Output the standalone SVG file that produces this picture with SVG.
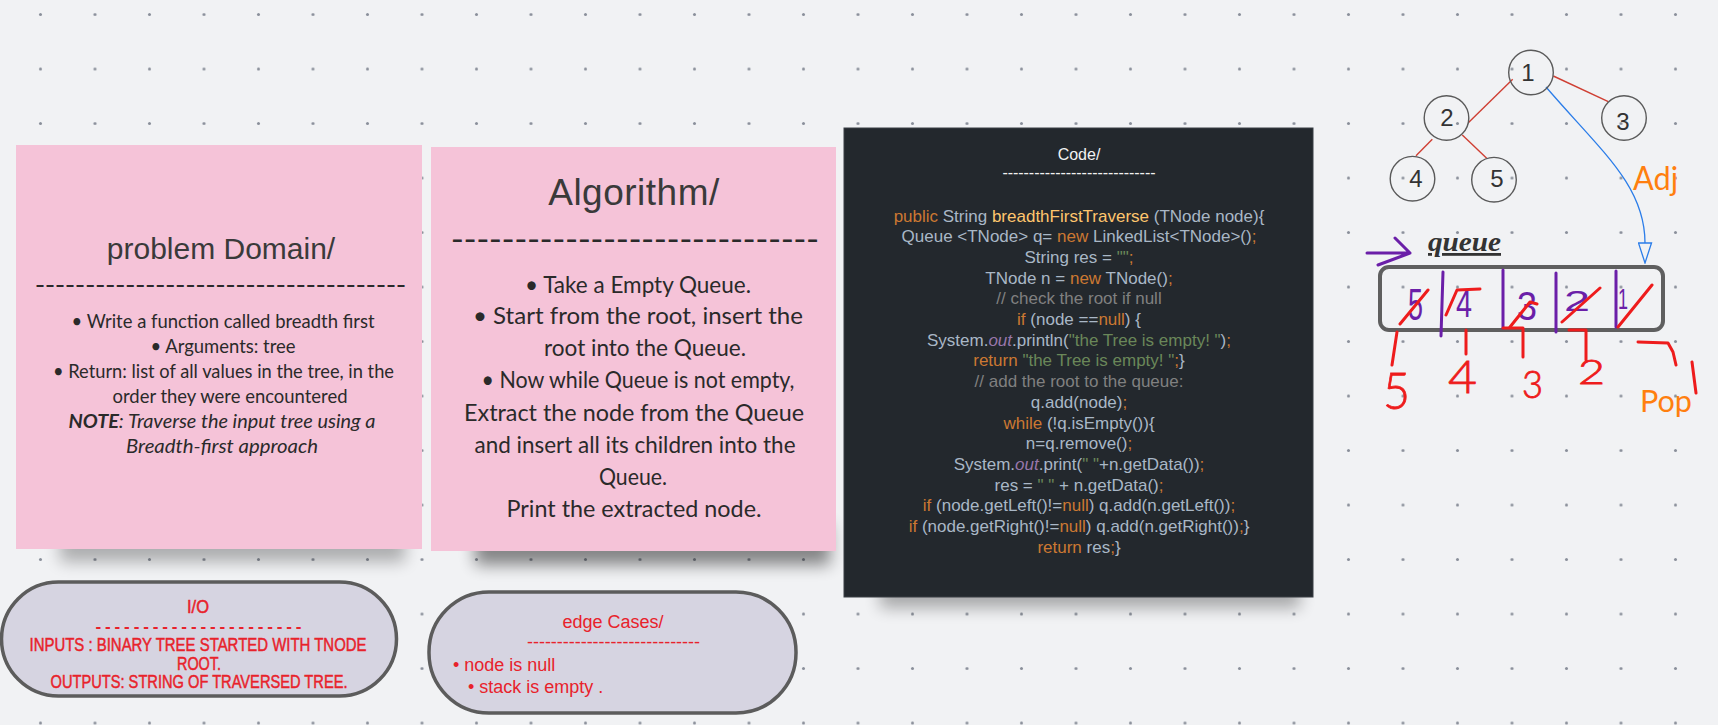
<svg xmlns="http://www.w3.org/2000/svg" width="1718" height="725" viewBox="0 0 1718 725">
<style>
.bg{fill:#f1f2f4}
.pink{fill:#f5c3d8}
.title{font-family:"Liberation Sans",Arial,sans-serif;fill:#3a3a3a;text-anchor:middle}
.hand{font-family:Lato,"Noto Sans",sans-serif;fill:#2a2a2a;text-anchor:middle}
.code{font-family:"Liberation Sans",Arial,sans-serif;font-size:17px;fill:#a9b7c6;text-anchor:middle;white-space:pre}
.k{fill:#cc7832}.y{fill:#ffc66d}.s{fill:#6a8759}.c{fill:#808080}.o{fill:#9876aa;font-style:italic}
.pill{fill:#d6d4e1;stroke:#5c5c5c;stroke-width:3.5}
.red{font-family:"Liberation Sans",Arial,sans-serif;fill:#e8222b}
.caps{stroke:#e8222b;stroke-width:0.5}
.node{fill:none;stroke:#5a5a5a;stroke-width:1.4}
.nl{font-family:"Liberation Sans",Arial,sans-serif;font-size:24px;fill:#333;text-anchor:middle}
.edge{stroke:#cf3f33;stroke-width:1.4;fill:none}
.pen{fill:none;stroke-linecap:round;stroke-linejoin:round}
.rp{stroke:#ee1c1c;stroke-width:3}
.pp{stroke:#6b1fa8;stroke-width:3}
.purd{font-family:"Liberation Sans",Arial,sans-serif;fill:#6b1fa8}
.redd{font-family:Lato,"Liberation Sans",sans-serif;font-weight:300;fill:#ee1c1c;stroke:#ee1c1c;stroke-width:0.8}
.ora{font-family:Lato,"Liberation Sans",sans-serif;fill:#ff7f0f}
</style>
<defs>
<pattern id="dots" patternUnits="userSpaceOnUse" x="13.25" y="-12.75" width="54.5" height="54.5">
<circle cx="27.25" cy="27.25" r="1.5" fill="#8a8f9a"/>
</pattern>
<filter id="blur" x="-30%" y="-100%" width="160%" height="300%"><feGaussianBlur stdDeviation="8"/></filter>
<marker id="tri" markerUnits="userSpaceOnUse" viewBox="-1 -1 22 15" refX="0" refY="6.5" markerWidth="22" markerHeight="15" orient="auto">
<path d="M0,0 L20,6.5 L0,13 Z" fill="#f1f2f4" stroke="#2b7de9" stroke-width="1.3"/>
</marker>
</defs>
<rect class="bg" x="0" y="0" width="1718" height="725"/>
<rect x="0" y="0" width="1718" height="725" fill="url(#dots)"/>

<g id="shadows">
<rect x="60" y="522" width="345" height="40" fill="#000" opacity="0.28" filter="url(#blur)"/>
<rect x="475" y="525" width="355" height="40" fill="#000" opacity="0.45" filter="url(#blur)"/>
<rect x="880" y="570" width="420" height="38" fill="#000" opacity="0.3" filter="url(#blur)"/>
</g>

<g id="problem-domain">
<rect class="pink" x="16" y="145" width="406" height="404"/>
<text class="title" x="221" y="259" font-size="30">problem Domain/</text>
<text class="hand" x="220.5" y="292" font-size="19" font-weight="bold" textLength="371" lengthAdjust="spacingAndGlyphs">-------------------------------------</text>
<text class="hand" x="223" y="328" font-size="19" textLength="303" lengthAdjust="spacingAndGlyphs">• Write a function called breadth first</text>
<text class="hand" x="223" y="353" font-size="19" textLength="145" lengthAdjust="spacingAndGlyphs">• Arguments: tree</text>
<text class="hand" x="223.5" y="378" font-size="19" textLength="341" lengthAdjust="spacingAndGlyphs">• Return: list of all values in the tree, in the</text>
<text class="hand" x="230" y="403" font-size="19" textLength="235" lengthAdjust="spacingAndGlyphs">order they were encountered</text>
<text class="hand" x="222" y="428" font-size="19" font-style="italic" textLength="307" lengthAdjust="spacingAndGlyphs"><tspan font-weight="bold">NOTE</tspan>: Traverse the input tree using a</text>
<text class="hand" x="222" y="453" font-size="19" font-style="italic" textLength="192" lengthAdjust="spacingAndGlyphs">Breadth-first approach</text>
</g>

<g id="algorithm">
<rect class="pink" x="431" y="147" width="405" height="404"/>
<text class="title" x="634" y="205" font-size="37" letter-spacing="0.5">Algorithm/</text>
<text class="hand" x="635" y="248" font-size="24" font-weight="bold" textLength="368" lengthAdjust="spacingAndGlyphs">-----------------------------</text>
<text class="hand" x="638" y="293" font-size="24" textLength="226" lengthAdjust="spacingAndGlyphs">• Take a Empty Queue.</text>
<text class="hand" x="638" y="324" font-size="24" textLength="330" lengthAdjust="spacingAndGlyphs">• Start from the root, insert the</text>
<text class="hand" x="645" y="356" font-size="24" textLength="202" lengthAdjust="spacingAndGlyphs">root into the Queue.</text>
<text class="hand" x="638" y="388" font-size="24" textLength="313" lengthAdjust="spacingAndGlyphs">• Now while Queue is not empty,</text>
<text class="hand" x="634" y="421" font-size="24" textLength="340" lengthAdjust="spacingAndGlyphs">Extract the node from the Queue</text>
<text class="hand" x="635" y="453" font-size="24" textLength="321" lengthAdjust="spacingAndGlyphs">and insert all its children into the</text>
<text class="hand" x="633" y="485" font-size="24" textLength="68" lengthAdjust="spacingAndGlyphs">Queue.</text>
<text class="hand" x="634" y="517" font-size="24" textLength="255" lengthAdjust="spacingAndGlyphs">Print the extracted node.</text>
</g>

<g id="code">
<rect x="844" y="128" width="469" height="469" fill="#23282d" stroke="#3a3f45" stroke-width="1"/>
<text x="1079" y="160" font-family="Liberation Sans,Arial,sans-serif" font-size="16" fill="#f2f2f2" text-anchor="middle">Code/</text>
<text x="1079" y="178" font-family="Liberation Sans,Arial,sans-serif" font-size="16" fill="#f2f2f2" text-anchor="middle" textLength="153" lengthAdjust="spacing">-----------------------------</text>
<text class="code" x="1079" y="221.5" xml:space="preserve"><tspan class="k">public</tspan> String <tspan class="y">breadthFirstTraverse</tspan> (TNode node){</text>
<text class="code" x="1079" y="242.2" xml:space="preserve">Queue &lt;TNode&gt; q= <tspan class="k">new</tspan> LinkedList&lt;TNode&gt;()<tspan class="k">;</tspan></text>
<text class="code" x="1079" y="262.9" xml:space="preserve">String res = <tspan class="s">""</tspan><tspan class="k">;</tspan></text>
<text class="code" x="1079" y="283.6" xml:space="preserve">TNode n = <tspan class="k">new</tspan> TNode()<tspan class="k">;</tspan></text>
<text class="code c" x="1079" y="304.3" xml:space="preserve">// check the root if null</text>
<text class="code" x="1079" y="325" xml:space="preserve"><tspan class="k">if</tspan> (node ==<tspan class="k">null</tspan>) {</text>
<text class="code" x="1079" y="345.7" xml:space="preserve">System.<tspan class="o">out</tspan>.println(<tspan class="s">"the Tree is empty! "</tspan>)<tspan class="k">;</tspan></text>
<text class="code" x="1079" y="366.4" xml:space="preserve"><tspan class="k">return</tspan> <tspan class="s">"the Tree is empty! "</tspan><tspan class="k">;</tspan>}</text>
<text class="code c" x="1079" y="387.1" xml:space="preserve">// add the root to the queue:</text>
<text class="code" x="1079" y="407.8" xml:space="preserve">q.add(node)<tspan class="k">;</tspan></text>
<text class="code" x="1079" y="428.5" xml:space="preserve"><tspan class="k">while</tspan> (!q.isEmpty()){</text>
<text class="code" x="1079" y="449.2" xml:space="preserve">n=q.remove()<tspan class="k">;</tspan></text>
<text class="code" x="1079" y="469.9" xml:space="preserve">System.<tspan class="o">out</tspan>.print(<tspan class="s">" "</tspan>+n.getData())<tspan class="k">;</tspan></text>
<text class="code" x="1079" y="490.6" xml:space="preserve">res = <tspan class="s">" "</tspan> + n.getData()<tspan class="k">;</tspan></text>
<text class="code" x="1079" y="511.3" xml:space="preserve"><tspan class="k">if</tspan> (node.getLeft()!=<tspan class="k">null</tspan>) q.add(n.getLeft())<tspan class="k">;</tspan></text>
<text class="code" x="1079" y="532" xml:space="preserve"><tspan class="k">if</tspan> (node.getRight()!=<tspan class="k">null</tspan>) q.add(n.getRight())<tspan class="k">;</tspan>}</text>
<text class="code" x="1079" y="552.7" xml:space="preserve"><tspan class="k">return</tspan> res<tspan class="k">;</tspan>}</text>
</g>

<g id="io">
<rect class="pill" x="1.5" y="582" width="395" height="114" rx="57"/>
<text class="red caps" x="198" y="613" font-size="18" text-anchor="middle" textLength="22" lengthAdjust="spacingAndGlyphs">I/O</text>
<text class="red" x="198.5" y="632" font-size="17" font-weight="bold" text-anchor="middle" textLength="206" lengthAdjust="spacing">----------------------</text>
<text class="red caps" x="198" y="651" font-size="19" text-anchor="middle" textLength="337" lengthAdjust="spacingAndGlyphs">INPUTS : BINARY TREE STARTED WITH TNODE</text>
<text class="red caps" x="199" y="669.5" font-size="19" text-anchor="middle" textLength="44" lengthAdjust="spacingAndGlyphs">ROOT.</text>
<text class="red caps" x="199" y="688" font-size="19" text-anchor="middle" textLength="297" lengthAdjust="spacingAndGlyphs">OUTPUTS: STRING OF TRAVERSED TREE.</text>
</g>

<g id="edge-cases">
<rect class="pill" x="429" y="592" width="367" height="121" rx="60"/>
<text class="red" x="613" y="627.5" font-size="18" text-anchor="middle">edge Cases/</text>
<text class="red" x="613.5" y="648" font-size="18" text-anchor="middle" textLength="173" lengthAdjust="spacing">-----------------------------</text>
<text class="red" x="453" y="670.5" font-size="18">• node is null</text>
<text class="red" x="468" y="693" font-size="18">• stack is empty .</text>
</g>

<g id="connectors">
<line class="edge" x1="1512.7" y1="79.3" x2="1468.3" y2="122.7"/>
<line class="edge" x1="1553.3" y1="76" x2="1608.3" y2="101.7"/>
<line class="edge" x1="1432.3" y1="139.3" x2="1416" y2="155.7"/>
<line class="edge" x1="1462.3" y1="135" x2="1486.7" y2="158.3"/>
<path d="M1546,87 C1600,150 1645,185 1645,243" fill="none" stroke="#2b7de9" stroke-width="1.3" marker-end="url(#tri)"/>
</g>

<g id="node-1"><circle class="node" cx="1531" cy="72.5" r="22.3"/><text class="nl" x="1528" y="81">1</text></g>
<g id="node-2"><circle class="node" cx="1446.5" cy="118" r="22.3"/><text class="nl" x="1447" y="126">2</text></g>
<g id="node-3"><circle class="node" cx="1624" cy="118" r="22.3"/><text class="nl" x="1623" y="130">3</text></g>
<g id="node-4"><circle class="node" cx="1412.5" cy="178.7" r="22.3"/><text class="nl" x="1416" y="187">4</text></g>
<g id="node-5"><circle class="node" cx="1494" cy="179.7" r="22.3"/><text class="nl" x="1497" y="187">5</text></g>

<g id="adj-label"><text class="ora" x="1633" y="190" font-size="32" textLength="45" lengthAdjust="spacingAndGlyphs">Adj</text></g>

<g id="queue">
<text x="1428" y="251" font-family="Liberation Serif,Times New Roman,serif" font-size="28" font-weight="bold" font-style="italic" fill="#333" text-decoration="underline" textLength="73" lengthAdjust="spacingAndGlyphs">queue</text>
<path class="pen pp" d="M1367,253 L1410,253 M1395,238 L1410,253 L1378,265"/>
<rect x="1380" y="267" width="283" height="63" rx="9" fill="none" stroke="#5f5f5f" stroke-width="4"/>
<path class="pen pp" d="M1443,272 L1441,336 M1503,270 L1503,328 M1556,273 L1556,332 M1616,271 L1616,327"/>
<text class="purd" x="1408" y="320" font-size="44" textLength="15" lengthAdjust="spacingAndGlyphs">5</text>
<text class="purd" x="1456" y="317" font-size="38" textLength="16" lengthAdjust="spacingAndGlyphs">4</text>
<text class="purd" x="1517" y="320" font-size="40" textLength="20" lengthAdjust="spacingAndGlyphs">3</text>
<text class="purd" x="1564" y="311" font-size="30" textLength="26" lengthAdjust="spacingAndGlyphs">2</text>
<text class="purd" x="1618" y="309" font-size="30" textLength="10" lengthAdjust="spacingAndGlyphs">1</text>
<path class="pen rp" d="M1400,324 L1428,290 M1446,315 L1457,290 L1480,289 M1510,327 L1530,302 L1537,304 M1562,322 L1600,288 M1618,327 L1652,285"/>
<path class="pen rp" d="M1397,332 L1392,365 M1466,330 L1466,354 M1503,328 L1523,328 L1523,357 M1569,330 L1586,330 L1586,360 M1638,342 L1668,343 L1673,352 L1676,365 M1692,362 L1696,393"/>
<text class="redd" x="1383" y="409" font-size="52" textLength="27" lengthAdjust="spacingAndGlyphs">5</text>
<text class="redd" x="1448" y="393" font-size="46" textLength="29" lengthAdjust="spacingAndGlyphs">4</text>
<text class="redd" x="1522" y="398" font-size="37" textLength="21" lengthAdjust="spacingAndGlyphs">3</text>
<text class="redd" x="1578" y="384" font-size="33" textLength="27" lengthAdjust="spacingAndGlyphs">2</text>
<text class="ora" x="1640" y="412" font-size="30" textLength="52" lengthAdjust="spacingAndGlyphs">Pop</text>
</g>
</svg>
